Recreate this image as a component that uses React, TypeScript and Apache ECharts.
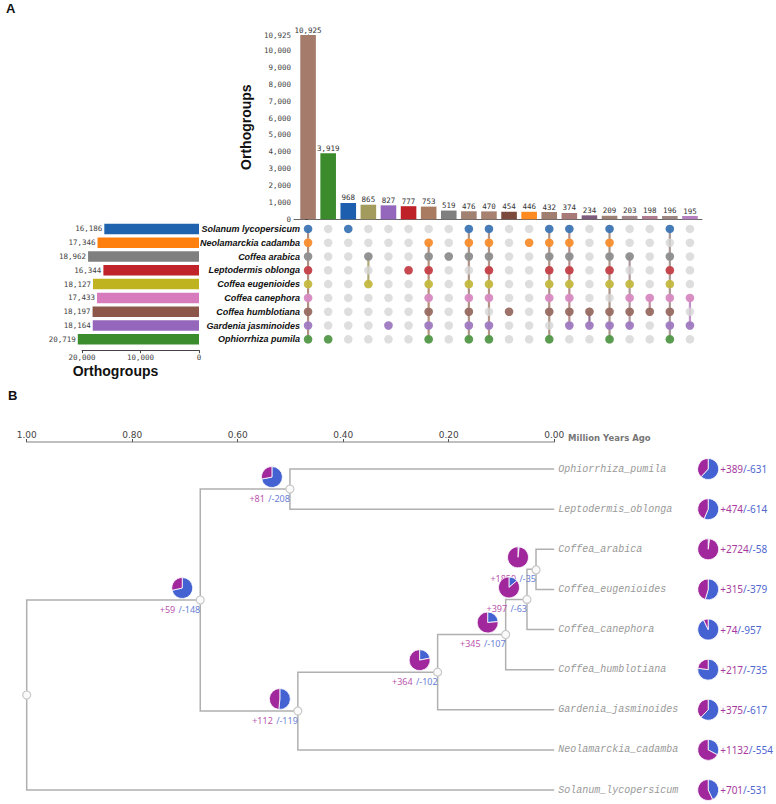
import React, { useEffect, useRef } from 'react';
import * as echarts from 'echarts';

// ---------- Panel A data ----------
const speciesNames = [
  'Solanum lycopersicum', 'Neolamarckia cadamba', 'Coffea arabica', 'Leptodermis oblonga',
  'Coffea eugenioides', 'Coffea canephora', 'Coffea humblotiana', 'Gardenia jasminoides', 'Ophiorrhiza pumila',
];
const speciesSizes = [16186, 17346, 18962, 16344, 18127, 17433, 18197, 18164, 20719];
const speciesColors = ['#1f63ae', '#ff7f0e', '#7f7f7f', '#c0232a', '#bfb320', '#d87bbd', '#8c564b', '#9467bd', '#3a8c2c'];

const intersectionCounts = [10925, 3919, 968, 865, 827, 777, 753, 519, 476, 470, 454, 446, 432, 374, 234, 209, 203, 198, 196, 195];
const intersectionMembers = [
  [0, 1, 2, 3, 4, 5, 6, 7, 8],
  [8],
  [0],
  [2, 4],
  [7],
  [3],
  [1, 2, 3, 4, 5, 6, 7, 8],
  [2],
  [0, 1, 2, 4, 5, 6, 7, 8],
  [0, 1, 2, 3, 4, 5, 7, 8],
  [6],
  [1],
  [0, 1, 2, 3, 4, 5, 6, 8],
  [0, 1, 2, 3, 4, 5, 6, 7],
  [6, 7],
  [0, 1, 2, 3, 4, 6, 7, 8],
  [2, 4, 5, 6, 7],
  [5, 6],
  [0, 2, 3, 4, 5, 6, 7, 8],
  [5, 7],
];
const intersectionColors = [
  '#a57c6b', '#3b8b2d', '#1d5fae', '#a39a5d', '#9467bd', '#bf2129', '#a97b61', '#7f7f7f', '#a08172', '#a78270',
  '#7b4a3c', '#ff8a1f', '#a07f70', '#a87a77', '#7c5b7c', '#9c8072', '#a18689', '#b07a8f', '#9b8682', '#b57fc0',
];

// ---------- Panel B data ----------
const leafNames = [
  'Ophiorrhiza_pumila', 'Leptodermis_oblonga', 'Coffea_arabica', 'Coffea_eugenioides', 'Coffea_canephora',
  'Coffea_humblotiana', 'Gardenia_jasminoides', 'Neolamarckia_cadamba', 'Solanum_lycopersicum',
];
const leafGain = [389, 474, 2724, 315, 74, 217, 375, 1132, 701];
const leafLoss = [631, 614, 58, 379, 957, 735, 617, 554, 531];
// internal nodes (ids 9..16); children refer to node ids (leaves are 0..8)
const internalChildren = [[2, 3], [9, 4], [10, 5], [11, 6], [12, 7], [0, 1], [14, 13], [15, 8]];
const internalAge = [0.0345, 0.0516, 0.092, 0.221, 0.486, 0.501, 0.671, 1.0];
const internalGain = [1859, 397, 345, 364, 112, 81, 59, null];
const internalLoss = [35, 63, 107, 102, 119, 208, 148, null];

const fmt = (v: number) => Math.round(v).toLocaleString('en-US');
const MONO = "'DejaVu Sans Mono', monospace";
const SANS = "'Liberation Sans', Arial, sans-serif";
const GAIN = '#a0289c';
const LOSS = '#4562d2';

export default function App() {
  const ref = useRef<HTMLDivElement>(null);
  useEffect(() => {
    const chart = echarts.init(ref.current!, null, { renderer: 'svg' });

    // tree layout
    const nodeAge: number[] = [];
    const nodeY: number[] = [];
    leafNames.forEach((_, i) => { nodeAge[i] = 0; nodeY[i] = i; });
    internalChildren.forEach((ch, k) => {
      const id = leafNames.length + k;
      nodeAge[id] = internalAge[k];
      nodeY[id] = (nodeY[ch[0]] + nodeY[ch[1]]) / 2;
    });
    const edges: number[][] = [];
    internalChildren.forEach((ch, k) => {
      const id = leafNames.length + k;
      ch.forEach((c) => edges.push([nodeAge[id], nodeY[id], nodeAge[c], nodeY[c]]));
    });
    const internalPts = internalChildren.map((_, k) => {
      const id = leafNames.length + k;
      return [nodeAge[id], nodeY[id], internalGain[k] ?? 0, internalLoss[k] ?? 0, internalGain[k] == null ? 0 : 1];
    });
    const pieData = [
      ...internalPts.filter((p) => p[4] === 1).map((p) => [p[0], p[1], p[2], p[3], 0]),
      ...leafNames.map((_, i) => [0, i, leafGain[i], leafLoss[i], 1]),
    ];

    const grayCells: number[][] = [];
    intersectionCounts.forEach((_, c) => speciesNames.forEach((_, r) => grayCells.push([c, r])));
    const activeCells: any[] = [];
    intersectionMembers.forEach((m, c) => m.forEach((r) => activeCells.push({ value: [c, r], itemStyle: { color: speciesColors[r] } })));
    const linkData = intersectionMembers.map((m, c) => [c, Math.min(...m), Math.max(...m)]);

    const option: any = {
      animation: false,
      graphic: [
        { type: 'text', left: 6, top: 2, style: { text: 'A', font: `bold 13px ${SANS}`, fill: '#111' } },
        { type: 'text', left: 8, top: 389, style: { text: 'B', font: `bold 13px ${SANS}`, fill: '#111' } },
      ],
      grid: [
        { left: 294, top: 35, width: 408, height: 184.3 },
        { left: 294, top: 222, width: 408, height: 124.2 },
        { left: 82, top: 222, width: 117, height: 124.2 },
        { left: 26.7, top: 442, width: 527.5, height: 358 },
      ],
      xAxis: [
        {
          gridIndex: 0, type: 'value', min: -0.7, max: 19.6,
          axisLine: { show: true, onZero: false, lineStyle: { color: '#666' } },
          axisTick: { show: false }, axisLabel: { show: false }, splitLine: { show: false },
        },
        { gridIndex: 1, type: 'value', min: -0.7, max: 19.6, show: false },
        {
          gridIndex: 2, type: 'value', min: 0, max: 20000, interval: 10000, inverse: true, offset: 4,
          axisLine: { show: true, lineStyle: { color: '#444' } },
          axisTick: { show: true, length: 3, lineStyle: { color: '#444' } },
          axisLabel: { formatter: fmt, fontFamily: MONO, fontSize: 7.5, color: '#444', margin: 3 },
          splitLine: { show: false },
          name: 'Orthogroups', nameLocation: 'middle', nameGap: 14,
          nameTextStyle: { fontSize: 14, fontWeight: 'bold', fontFamily: SANS, color: '#111', padding: [0, 50, 0, 0] },
        },
        {
          gridIndex: 3, type: 'value', position: 'top', min: 0, max: 1, interval: 0.2, inverse: true,
          axisLine: { show: true, onZero: false, lineStyle: { color: '#aaa', width: 1.5 } },
          axisTick: { show: true, length: 3, lineStyle: { color: '#555' } },
          axisLabel: { formatter: (v: number) => v.toFixed(2), fontSize: 9, color: '#444', fontFamily: "'DejaVu Sans', sans-serif", margin: 3 },
          splitLine: { show: false },
          name: 'Million Years Ago', nameLocation: 'start', nameGap: 6,
          nameTextStyle: { fontSize: 8.5, fontWeight: 'bold', color: '#777', fontFamily: "'DejaVu Sans', sans-serif", verticalAlign: 'bottom' },
        },
      ],
      yAxis: [
        {
          gridIndex: 0, type: 'value', min: 0, max: 10925, interval: 1000,
          axisLine: { show: true, lineStyle: { color: '#333' } },
          axisTick: { show: true, length: 3, lineStyle: { color: '#333' } },
          axisLabel: { formatter: fmt, fontFamily: MONO, fontSize: 7.5, color: '#444', margin: 3 },
          splitLine: { show: false },
          name: 'Orthogroups', nameLocation: 'middle', nameGap: 33, nameRotate: 90,
          nameTextStyle: { fontSize: 14, fontWeight: 'bold', fontFamily: SANS, color: '#111' },
        },
        { gridIndex: 1, type: 'value', min: -0.5, max: 8.5, inverse: true, show: false },
        {
          gridIndex: 2, type: 'category', data: speciesNames, inverse: true, position: 'right',
          axisLine: { show: false }, axisTick: { show: false },
          axisLabel: { align: 'right', margin: 101, fontStyle: 'italic', fontWeight: 'bold', fontSize: 9, fontFamily: SANS, color: '#111' },
        },
        { gridIndex: 3, type: 'value', min: -0.673, max: 8.249, inverse: true, show: false },
      ],
      series: [
        {
          type: 'bar', xAxisIndex: 0, yAxisIndex: 0, barWidth: 15.6,
          data: intersectionCounts.map((v, i) => ({ value: [i, v], itemStyle: { color: intersectionColors[i] } })),
          label: {
            show: true, position: 'top', distance: 1, formatter: (p: any) => fmt(p.value[1]),
            fontFamily: MONO, fontSize: 7.5, color: '#333',
          },
        },
        {
          type: 'scatter', xAxisIndex: 1, yAxisIndex: 1, symbolSize: 8.5, silent: true,
          data: grayCells, itemStyle: { color: '#d6d6d6' },
        },
        {
          type: 'custom', xAxisIndex: 1, yAxisIndex: 1, silent: true, data: linkData,
          renderItem: (params: any, api: any) => {
            const a = api.coord([api.value(0), api.value(1)]);
            const b = api.coord([api.value(0), api.value(2)]);
            return {
              type: 'line', shape: { x1: a[0], y1: a[1], x2: b[0], y2: b[1] },
              style: { stroke: intersectionColors[params.dataIndex], lineWidth: 2.2, opacity: 0.85 },
            };
          },
        },
        {
          type: 'scatter', xAxisIndex: 1, yAxisIndex: 1, symbolSize: 8.5, silent: true, data: activeCells,
        },
        {
          type: 'bar', xAxisIndex: 2, yAxisIndex: 2, barWidth: 10.5, clip: false,
          data: speciesSizes.map((v, i) => ({ value: v, itemStyle: { color: speciesColors[i] } })),
          label: {
            show: true, position: 'left', distance: 2, formatter: (p: any) => fmt(p.value),
            fontFamily: MONO, fontSize: 7.5, color: '#444',
          },
        },
        // tree edges
        {
          type: 'custom', xAxisIndex: 3, yAxisIndex: 3, silent: true, data: edges,
          renderItem: (params: any, api: any) => {
            const p = api.coord([api.value(0), api.value(1)]);
            const c = api.coord([api.value(2), api.value(3)]);
            return {
              type: 'polyline', shape: { points: [[p[0], p[1]], [p[0], c[1]], [c[0], c[1]]] },
              style: { stroke: '#b0b0b0', lineWidth: 1.5, fill: 'none' },
            };
          },
        },
        // internal node labels
        {
          type: 'custom', xAxisIndex: 3, yAxisIndex: 3, silent: true, data: internalPts.filter((p) => p[4] === 1),
          renderItem: (params: any, api: any) => {
            const p = api.coord([api.value(0), api.value(1)]);
            return {
              type: 'text',
              style: {
                x: p[0], y: p[1] + 9, align: 'right', verticalAlign: 'middle',
                text: `{g|+${api.value(2)}} {l|/-${api.value(3)}}`,
                rich: {
                  g: { fill: '#bb55ad', fontSize: 9, fontFamily: "'Noto Sans', sans-serif" },
                  l: { fill: '#6a7fd6', fontSize: 9, fontFamily: "'Noto Sans', sans-serif" },
                },
              },
            };
          },
        },
        // node circles
        {
          type: 'custom', xAxisIndex: 3, yAxisIndex: 3, silent: true, data: internalPts,
          renderItem: (params: any, api: any) => {
            const p = api.coord([api.value(0), api.value(1)]);
            return {
              type: 'circle', shape: { cx: p[0], cy: p[1], r: 4 },
              style: { fill: '#fafafa', stroke: '#c8c8c8', lineWidth: 1.2 },
            };
          },
        },
        // pies
        {
          type: 'custom', xAxisIndex: 3, yAxisIndex: 3, silent: true, data: pieData,
          renderItem: (params: any, api: any) => {
            const p = api.coord([api.value(0), api.value(1)]);
            const gain = api.value(2);
            const loss = api.value(3);
            const isLeaf = api.value(4) === 1;
            const cx = isLeaf ? p[0] + 154 : p[0] - 18;
            const cy = isLeaf ? p[1] : p[1] - 12;
            const r = 10.5;
            const start = -Math.PI / 2;
            const mid = start + (loss / (gain + loss)) * Math.PI * 2;
            return {
              type: 'group',
              children: [
                {
                  type: 'sector', shape: { cx, cy, r0: 0, r, startAngle: start, endAngle: mid, clockwise: true },
                  style: { fill: LOSS, stroke: '#fff', lineWidth: 0.8 },
                },
                {
                  type: 'sector', shape: { cx, cy, r0: 0, r, startAngle: mid, endAngle: start + Math.PI * 2, clockwise: true },
                  style: { fill: GAIN, stroke: '#fff', lineWidth: 0.8 },
                },
              ],
            };
          },
        },
        // leaf labels
        {
          type: 'custom', xAxisIndex: 3, yAxisIndex: 3, silent: true,
          data: leafNames.map((_, i) => [0, i, leafGain[i], leafLoss[i]]),
          renderItem: (params: any, api: any) => {
            const p = api.coord([api.value(0), api.value(1)]);
            const i = params.dataIndex;
            return {
              type: 'group',
              children: [
                {
                  type: 'text',
                  style: {
                    x: p[0] + 4, y: p[1], text: leafNames[i], align: 'left', verticalAlign: 'middle',
                    fill: '#999', fontSize: 10, fontStyle: 'italic', fontFamily: "'Liberation Mono', monospace",
                  },
                },
                {
                  type: 'text',
                  style: {
                    x: p[0] + 166, y: p[1], align: 'left', verticalAlign: 'middle',
                    text: `{g|+${api.value(2)}}{l|/-${api.value(3)}}`,
                    rich: {
                      g: { fill: '#a83a9e', fontSize: 10, fontFamily: "'Noto Sans', sans-serif" },
                      l: { fill: '#4f66cf', fontSize: 10, fontFamily: "'Noto Sans', sans-serif" },
                    },
                  },
                },
              ],
            };
          },
        },
      ],
    };
    chart.setOption(option);
    return () => chart.dispose();
  }, []);
  return <div ref={ref} style={{ position: 'absolute', left: 0, top: 0, width: 776, height: 804 }} />;
}
